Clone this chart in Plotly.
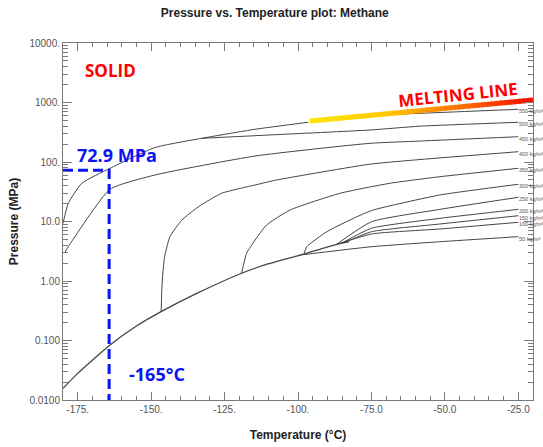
import numpy as np
import plotly.graph_objects as go

# ---------------- data ----------------
title_text = "Pressure vs. Temperature plot: Methane"
x_tickvals = [-175, -150, -125, -100, -75, -50, -25]
x_ticktext = ["-175.", "-150.", "-125.", "-100.", "-75.0", "-50.0", "-25.0"]
y_tickvals = [0.01, 0.1, 1, 10, 100, 1000, 10000]
y_ticktext = ["0.0100", "0.100", "1.00", "10.0", "100.", "1000.", "10000."]

# saturation (vapour pressure) curve
sat_T = [-180, -175, -164, -155, -146.6, -135, -119.2, -110, -99.3, -86.8, -82.6]
sat_P = [0.0157, 0.028, 0.084, 0.175, 0.305, 0.6, 1.35, 1.95, 2.73, 4.14, 4.6]

# melting curve (grey part)
melt_T = [-180, -178.2, -173.6, -164, -148.7, -132.8, -114.6, -96.5]
melt_P = [9.3, 20.2, 43.9, 78.4, 175, 250, 355, 465]

# highlighted melting line
melt_hi_T = [-96, -20]
melt_hi_P = [488, 1100]

# isochores (kg/m3)
iso550_T = [-75, -58.5, -25]
iso550_P = [614, 658, 769]
iso500_T = [-132.8, -109.5, -75.5, -58.5, -25]
iso500_P = [250, 285, 345, 400, 465]
iso450_T = [-179.3, -178.2, -164, -148.7, -114.6, -75.5, -58.5, -25]
iso450_P = [3.07, 3.77, 34.8, 60.5, 126, 206, 225, 266]
iso400_T = [-146.6, -146.2, -145.4, -143.6, -139.6, -133.9, -126, -114.6, -107.3, -75.5, -58.5, -25]
iso400_P = [0.305, 1.04, 2.56, 5.55, 10.5, 17.7, 29.8, 41.1, 49.8, 92, 110, 149]
iso350_T = [-119.2, -117.5, -114.6, -110.7, -102.7, -85.7, -68.7, -51.7, -25]
iso350_P = [1.35, 2.92, 4.89, 8.73, 15.6, 29.8, 43.9, 56.6, 78.4]
iso300_T = [-98, -97, -90.2, -80, -74.4, -51.7, -25]
iso300_P = [2.85, 3.77, 6.74, 12.0, 15.6, 27.9, 42.2]
iso250_T = [-87, -75, -51.7, -25]
iso250_P = [4.1, 9.9, 16.0, 25.5]
iso200_T = [-85, -75, -51.7, -25]
iso200_P = [4.35, 7.7, 11.3, 16.0]
iso150_T = [-84, -75, -51.7, -25]
iso150_P = [4.45, 6.74, 9.08, 12.5]
iso100_T = [-87, -75, -51.7, -25]
iso100_P = [4.1, 6.17, 7.48, 9.7]
iso50_T = [-99.3, -75, -51.7, -25]
iso50_P = [2.73, 3.77, 4.57, 5.56]

iso_labels = ["550 kg/m³", "500 kg/m³", "450 kg/m³", "400 kg/m³", "350 kg/m³", "300 kg/m³",
              "250 kg/m³", "200 kg/m³", "150 kg/m³", "100 kg/m³", "50 kg/m³"]

# marked point
mark_T = -164.3
mark_P = 72.9
mark_P_text = "72.9 MPa"
mark_T_text = "-165°C"

# ---------------- figure ----------------
GREY = "#454545"
AX = "#7a7a7a"
fig = go.Figure()

def curve(T, P, w=1.0):
    fig.add_trace(go.Scatter(x=T, y=P, mode="lines", line=dict(color=GREY, width=w, shape="spline", smoothing=0.5),
                             hoverinfo="skip", showlegend=False))

curve(sat_T, sat_P, 1.3)
curve(melt_T, melt_P)
isos = [(iso550_T, iso550_P), (iso500_T, iso500_P), (iso450_T, iso450_P), (iso400_T, iso400_P),
        (iso350_T, iso350_P), (iso300_T, iso300_P), (iso250_T, iso250_P), (iso200_T, iso200_P),
        (iso150_T, iso150_P), (iso100_T, iso100_P), (iso50_T, iso50_P)]
for (T, P) in isos:
    curve(T, P)

for (T, P), lab in zip(isos, iso_labels):
    fig.add_annotation(x=T[-1], y=np.log10(P[-1]), text=lab, showarrow=False, xanchor="left",
                       yanchor="middle", yshift=-2, xshift=-1,
                       font=dict(family="Liberation Sans", size=5.5, color="#555"))

# gradient melting line
n = 48
t0, t1 = melt_hi_T
l0, l1 = np.log10(melt_hi_P)
stops = [(0.0, (255, 232, 0)), (0.35, (255, 200, 0)), (0.65, (255, 120, 0)), (1.0, (255, 10, 0))]
def col(a):
    for (p0, c0), (p1, c1) in zip(stops[:-1], stops[1:]):
        if a <= p1:
            f = (a - p0) / (p1 - p0)
            return "rgb(%d,%d,%d)" % tuple(int(c0[k] + f * (c1[k] - c0[k])) for k in range(3))
    return "rgb(255,10,0)"
for i in range(n):
    a, b = i / n, min(1.0, (i + 1.3) / n)
    fig.add_trace(go.Scatter(x=[t0 + a * (t1 - t0), t0 + b * (t1 - t0)],
                             y=[10 ** (l0 + a * (l1 - l0)), 10 ** (l0 + b * (l1 - l0))],
                             mode="lines", line=dict(color=col((a + b) / 2), width=5),
                             hoverinfo="skip", showlegend=False))

# dashed marker lines
BLUE = "#0a14f5"
fig.add_trace(go.Scatter(x=[-180, mark_T, mark_T], y=[mark_P, mark_P, 0.01], mode="lines",
                         line=dict(color=BLUE, width=3, dash="10px,5px"), hoverinfo="skip", showlegend=False))

fig.add_annotation(x=-176, y=np.log10(mark_P) + 0.26, text=mark_P_text, showarrow=False, xanchor="left",
                   yanchor="middle", font=dict(family="Open Sans", size=18, color=BLUE, weight="bold"))
fig.add_annotation(x=-158.3, y=-1.563, text=mark_T_text, showarrow=False, xanchor="left",
                   yanchor="middle", font=dict(family="Open Sans", size=18, color=BLUE, weight="bold"))
fig.add_annotation(x=-173.2, y=3.546, text="SOLID", showarrow=False, xanchor="left",
                   yanchor="middle", font=dict(family="Open Sans", size=17, color="#ff0000", weight="bold"))
fig.add_annotation(x=-45.5, y=3.14, text="MELTING LINE", showarrow=False, textangle=-6,
                   xanchor="center", yanchor="middle",
                   font=dict(family="Open Sans", size=17, color="#ff0000", weight="bold"))

x_minor = [v for v in range(-180, -19, 5)]
y_minor = [m * 10 ** e for e in range(-2, 4) for m in range(2, 10)]

fig.update_layout(
    width=543, height=447,
    margin=dict(l=63, r=10, t=43, b=47, autoexpand=False),
    paper_bgcolor="white", plot_bgcolor="white",
    title=dict(text=title_text, x=0.506, xref="container", xanchor="center", y=1 - 13 / 447, yref="container",
               yanchor="middle", font=dict(family="Liberation Sans", size=12, color="#222", weight="bold")),
    xaxis=dict(range=[-180, -20], showline=True, linecolor=AX, linewidth=1, mirror="allticks",
               ticks="inside", ticklen=8, tickcolor=AX, tickwidth=1, automargin=False,
               tickmode="array", tickvals=x_tickvals, ticktext=x_ticktext,
               tickfont=dict(family="Liberation Sans", size=10, color="#555"),
               minor=dict(ticks="inside", ticklen=4, tickcolor=AX, tickmode="array", tickvals=x_minor),
               showgrid=False, zeroline=False,
               title=dict(text="Temperature (°C)", standoff=16,
                          font=dict(family="Liberation Sans", size=12, color="#222", weight="bold"))),
    yaxis=dict(type="log", range=[-2, 4], showline=True, linecolor=AX, linewidth=1, mirror="allticks",
               ticks="inside", ticklen=9, tickcolor=AX, tickwidth=1, automargin=False,
               tickmode="array", tickvals=y_tickvals, ticktext=y_ticktext,
               tickfont=dict(family="Liberation Sans", size=10, color="#555"),
               minor=dict(ticks="inside", ticklen=5, tickcolor=AX, tickmode="array", tickvals=y_minor),
               showgrid=False, zeroline=False,
               title=dict(text="Pressure (MPa)", standoff=8,
                          font=dict(family="Liberation Sans", size=12, color="#222", weight="bold"))),
)

fig.write_html("out.html", config={"displayModeBar": False},
               post_script="document.body.style.margin='0px';document.body.style.padding='0px';"
                           "document.documentElement.style.overflow='hidden';")
